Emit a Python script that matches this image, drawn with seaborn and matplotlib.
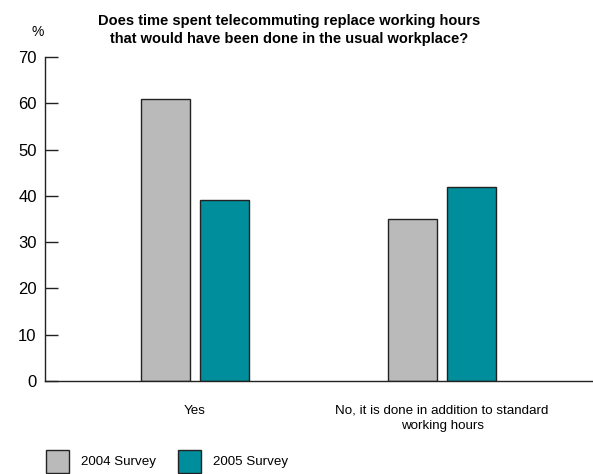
import matplotlib
matplotlib.use("Agg")
import matplotlib.pyplot as plt
import seaborn as sns
import pandas as pd

categories = ["Yes", "No, it is done in addition to standard\nworking hours"]
surveys = ["2004 Survey", "2005 Survey"]
values_2004 = [61, 35]
values_2005 = [39, 42]
y_ticks = [0, 10, 20, 30, 40, 50, 60, 70]

df = pd.DataFrame({
    "answer": categories * 2,
    "survey": [surveys[0]] * 2 + [surveys[1]] * 2,
    "pct": values_2004 + values_2005,
})

sns.set_theme(style="white")
plt.rcParams["font.family"] = ["Liberation Sans", "DejaVu Sans"]
plt.rcParams["text.color"] = "black"
plt.rcParams["ytick.color"] = "#222222"
plt.rcParams["ytick.labelcolor"] = "black"
plt.rcParams["xtick.labelcolor"] = "black"

fig = plt.figure(figsize=(5.93, 4.74), dpi=100)
ax = fig.add_axes([45 / 593, 93 / 474, 1 - 45 / 593, (381 - 57) / 474])

palette = {surveys[0]: "#bababa", surveys[1]: "#008e9c"}
sns.barplot(data=df, x="answer", y="pct", hue="survey", order=categories,
            hue_order=surveys, palette=palette, width=0.478, gap=0.169,
            edgecolor="#222222", linewidth=1.0, saturation=1, ax=ax, legend=True)

ax.set_xlim(-0.607, 1.611)
ax.set_ylim(0, 70)
ax.set_yticks(y_ticks)
ax.set_yticklabels([str(t) for t in y_ticks], fontsize=12)
ax.tick_params(axis="y", direction="in", length=9, width=1, left=True, pad=6)
ax.tick_params(axis="x", length=0, pad=17, labelsize=9.6)
for lbl in ax.get_xticklabels():
    lbl.set_linespacing(1.4)
ax.set_xlabel("")
ax.set_ylabel("")
for side in ["top", "right"]:
    ax.spines[side].set_visible(False)
for side in ["left", "bottom"]:
    ax.spines[side].set_color("#222222")
    ax.spines[side].set_linewidth(1.0)

handles, labels = ax.get_legend_handles_labels()
ax.get_legend().remove()
fig.legend(handles, labels, loc="lower left", bbox_to_anchor=(45 / 593, 0.0),
           ncol=2, frameon=False, borderpad=0.0, borderaxespad=0.1,
           handlelength=1.73, handleheight=2.28,
           handletextpad=0.9, columnspacing=1.65, prop={"size": 9.6})

fig.text(289 / 593, 1 - 14 / 474,
         "Does time spent telecommuting replace working hours\nthat would have been done in the usual workplace?",
         ha="center", va="top", fontsize=10.5, fontweight="bold", linespacing=1.35)
fig.text(38 / 593, 1 - 32 / 474, "%", ha="center", va="center", fontsize=10)

fig.savefig("out.png", dpi=100)
